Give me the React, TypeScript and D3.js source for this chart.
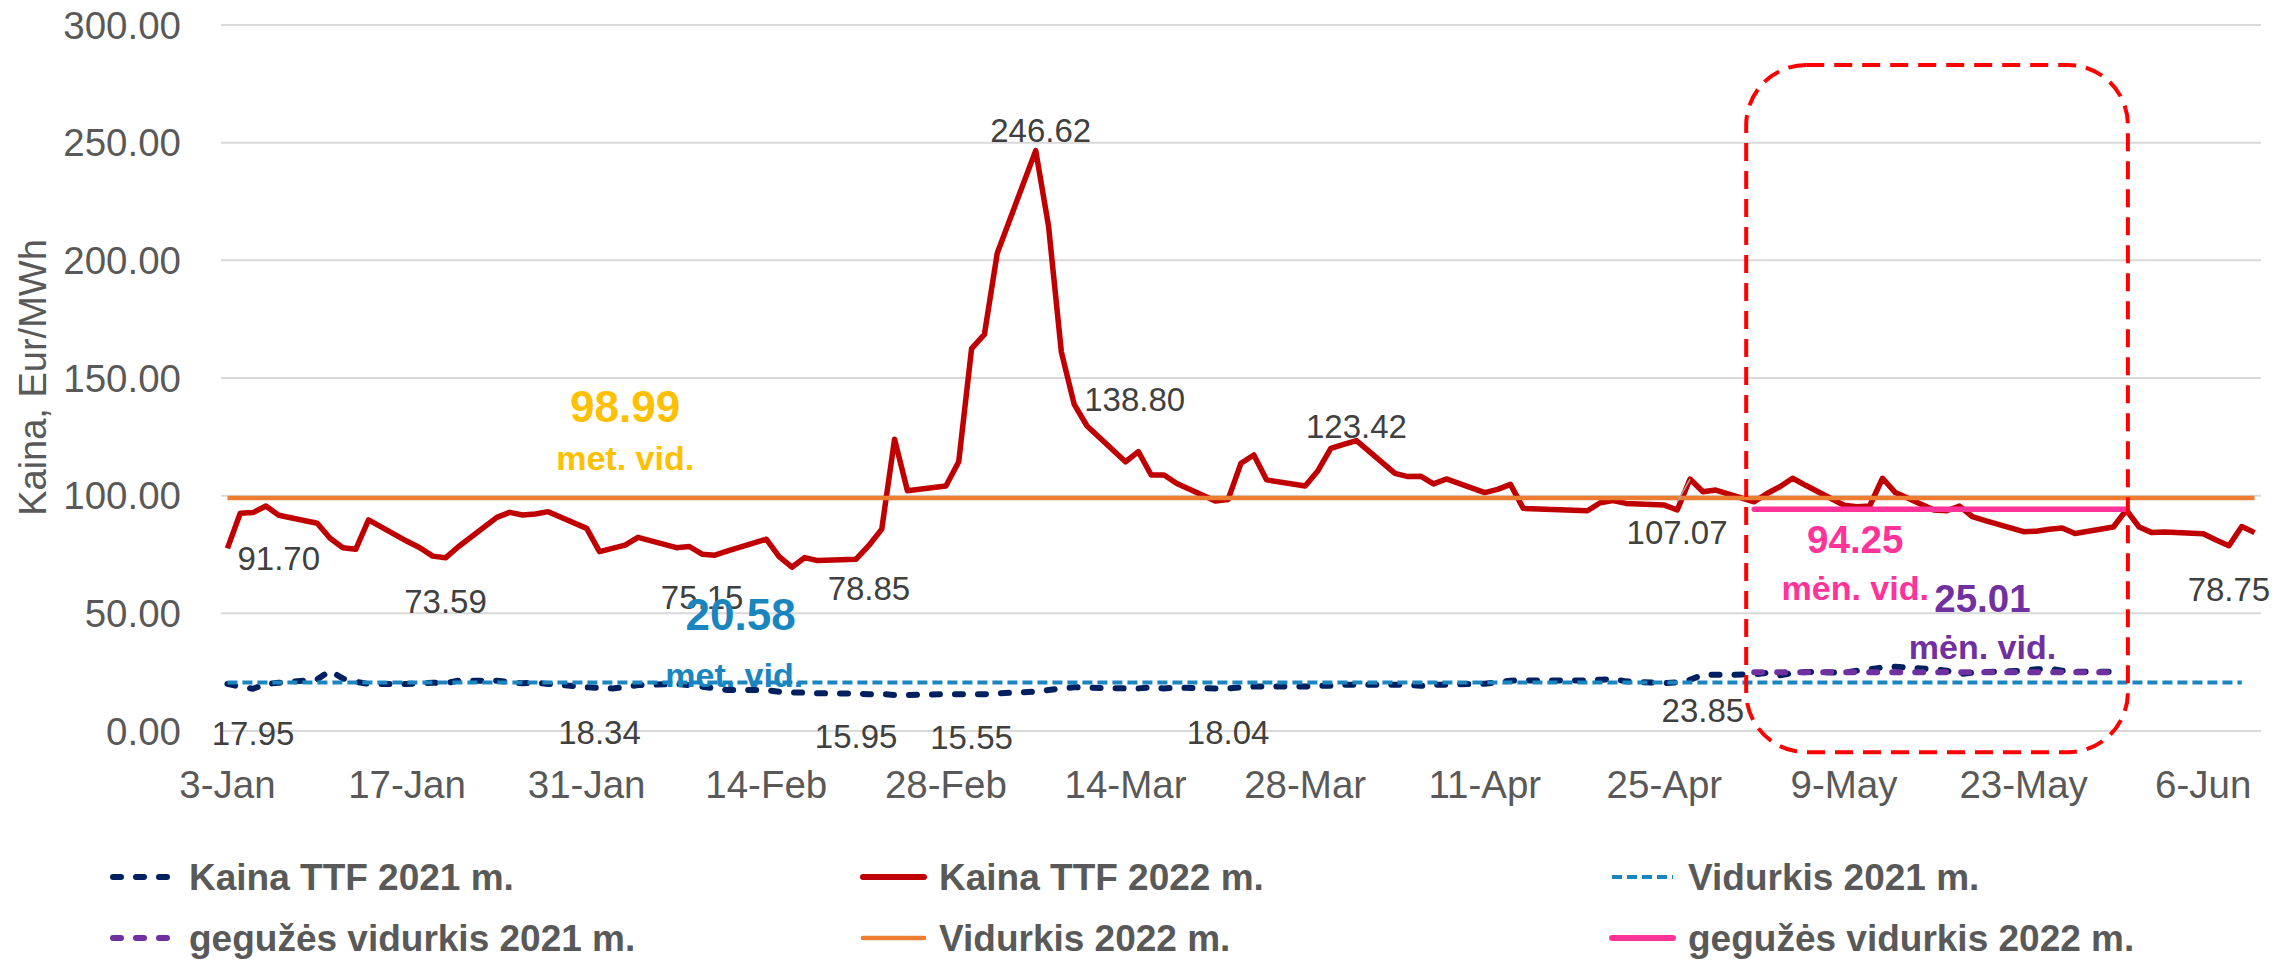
import React from 'react';
import * as d3 from 'd3';

// ---------- data ----------
const START = '2022-01-03';
const END = '2022-06-10';
const HOLIDAYS = ['2022-04-15', '2022-04-18'];

// Kaina TTF 2022 m. (business days from 3-Jan to 10-Jun)
const TTF_2022 = [
  77.6, 92.5, 92.8, 95.6, 91.70,
  88.3, 81.9, 77.9, 77.2, 89.7,
  80.6, 77.9, 74.3, 73.59, 78.3,
  90.8, 92.9, 91.8, 92.2, 93.2,
  86.1, 76.2, 77.6, 79.0, 82.3,
  77.9, 78.4, 75.15, 74.7, 76.5,
  81.5, 74.1, 69.6, 73.7, 72.4,
  73.0, 78.85, 85.8, 124.0, 102.1,
  104.1, 114.4, 162.5, 168.5, 203.0,
  246.62, 214.5, 161.0, 138.80, 129.6,
  114.4, 118.7, 108.8, 108.8, 105.2,
  97.7, 98.4, 113.8, 117.3, 106.7,
  104.1, 110.6, 120.1, 121.8, 123.42,
  109.5, 108.1, 108.3, 105.0, 107.1,
  101.3, 102.7, 104.8, 94.6,
  93.6, 97.0, 97.9, 96.7,
  96.0, 93.9, 107.07, 101.7, 102.4,
  97.4, 100.9, 103.8, 107.4, 104.4,
  95.9, 95.3, 95.6, 107.4, 101.3,
  93.9, 93.6, 95.6, 91.1, 89.4,
  84.7, 84.9, 85.7, 86.3, 83.9,
  86.7, 93.9, 86.7, 84.3, 84.6,
  83.8, 81.2, 78.75, 86.9, 84.3,
];

// Kaina TTF 2021 m. (same day slots, until 30-May)
const TTF_2021 = [
  20.0, 18.8, 17.95, 20.0, 20.5,
  21.9, 25.6, 22.3, 20.9, 20.0,
  20.0, 20.3, 20.5, 20.3, 21.4,
  21.4, 20.7, 20.3, 20.5, 20.0,
  18.6, 18.34, 18.1, 18.6, 19.5,
  20.0, 19.5, 18.8, 18.1, 17.4,
  17.4, 16.7, 16.4, 16.3, 16.0,
  15.95, 15.6, 15.7, 15.3, 15.3,
  15.7, 15.6, 15.55, 15.6, 16.0,
  16.7, 17.4, 18.1, 18.6, 18.4,
  18.1, 18.1, 18.6, 18.1, 18.4,
  18.1, 18.04, 18.6, 18.9, 18.9,
  18.9, 19.2, 19.2, 19.7, 19.7,
  19.7, 19.7, 19.2, 19.7, 19.7,
  20.1, 20.7, 21.4, 21.5,
  21.5, 21.8, 22.1, 21.1,
  20.3, 20.7, 21.8, 23.85, 23.9,
  24.0, 24.7, 23.7, 24.6, 25.1,
  24.8, 25.6, 26.2, 27.0, 27.3,
  26.2, 25.6, 24.2, 24.8, 25.1,
  25.6, 26.2, 26.5, 25.6, 25.2,
  25.2,
];

const AVG_2021 = 20.58;
const AVG_2022 = 98.99;
const MAY_AVG_2021 = 25.01;
const MAY_AVG_2022 = 94.25;
const AVG_2021_END = '2022-06-09';
const MAY_START = '2022-05-02';
const MAY_END_2022 = '2022-05-31';
const MAY_END_2021 = '2022-05-30';

const Y_TICKS = [0, 50, 100, 150, 200, 250, 300];
const X_TICK_COUNT = 12; // every 14 days from 3-Jan

const LABELS_2022 = ['2022-01-07', '2022-01-20', '2022-02-09', '2022-02-22', '2022-03-07', '2022-03-10', '2022-04-01', '2022-04-27', '2022-06-08'];
const LABELS_2021 = ['2022-01-05', '2022-02-01', '2022-02-21', '2022-03-02', '2022-03-22', '2022-04-28'];

const LEGEND = [
  'Kaina TTF 2021 m.', 'Kaina TTF 2022 m.', 'Vidurkis 2021 m.',
  'gegužės vidurkis 2021 m.', 'Vidurkis 2022 m.', 'gegužės vidurkis 2022 m.',
];

// ---------- layout / styles ----------
const W = 2295, H = 962;
const FONT = "'Liberation Sans', Arial, sans-serif";
const C = {
  red: '#C00000', navy: '#002060', lblue: '#1A85BF', purple: '#7030A0',
  orange: '#ED7D31', pink: '#FF3399', gold: '#FFC000', grid: '#D9D9D9',
  axis: '#595959', label: '#404040', box: '#FF0000',
};

const parse = d3.utcParse('%Y-%m-%d');
const dayAt = (days: number) => d3.utcHour.offset(parse(START)!, Math.round(days * 24 * 60) / 60);

function businessDays(start: string, end: string, holidays: string[]) {
  const fmt = d3.utcFormat('%Y-%m-%d');
  return d3.utcDay.range(parse(start)!, d3.utcDay.offset(parse(end)!, 1))
    .filter(d => d.getUTCDay() !== 0 && d.getUTCDay() !== 6 && !holidays.includes(fmt(d)));
}
const DATES = businessDays(START, END, HOLIDAYS);

const x = d3.scaleUtc()
  .domain([d3.utcHour.offset(parse(START)!, -12), d3.utcHour.offset(parse(END)!, 12)])
  .range([221, 2261]);
const y = d3.scaleLinear().domain([0, 300]).range([731, 25]);

type Pt = { d: Date; v: number };
const s2022: Pt[] = TTF_2022.map((v, i) => ({ d: DATES[i], v }));
const s2021: Pt[] = TTF_2021.map((v, i) => ({ d: DATES[i], v }));
const line = d3.line<Pt>().x(p => x(p.d)).y(p => y(p.v));
const flat = (v: number, a: string, b: string) => line([{ d: parse(a)!, v }, { d: parse(b)!, v }])!;

const fmtKey = d3.utcFormat('%Y-%m-%d');
const findPt = (s: Pt[], key: string) => s.find(p => fmtKey(p.d) === key)!;

// label placement (offsets from the point, in px)
const LABEL_LAYOUT_2022 = [
  { dx: 0, dy: 55, anchor: 'middle' },
  { dx: 0, dy: 55, anchor: 'middle' },
  { dx: 0, dy: 55, anchor: 'middle' },
  { dx: 0, dy: 55, anchor: 'middle' },
  { dx: 5, dy: -9, anchor: 'middle' },
  { dx: 10, dy: 7, anchor: 'start' },
  { dx: 0, dy: -3, anchor: 'middle' },
  { dx: -13, dy: 65, anchor: 'middle', leader: true },
  { dx: 0, dy: 55, anchor: 'middle' },
];
const LABEL_LAYOUT_2021 = [
  { dy: 56 }, { dy: 56 }, { dy: 55 }, { dy: 55 }, { dy: 55 }, { dy: 47 },
];

// average note texts (placed in data space)
const NOTES = [
  { text: '98.99', day: 31.0, v: 131.3, size: 44, color: C.gold },
  { text: 'met. vid.', day: 31.0, v: 110.9, size: 34, color: C.gold },
  { text: '20.58', day: 40.0, v: 42.9, size: 44, color: C.lblue },
  { text: 'met. vid.', day: 39.5, v: 18.7, size: 34, color: C.lblue },
  { text: '94.25', day: 126.9, v: 75.6, size: 38.5, color: C.pink },
  { text: 'mėn. vid.', day: 126.9, v: 55.7, size: 34, color: C.pink },
  { text: '25.01', day: 136.8, v: 50.6, size: 38.5, color: C.purple },
  { text: 'mėn. vid.', day: 136.8, v: 30.6, size: 34, color: C.purple },
];

const BOX = { d0: 118.4, d1: 148.15, v0: -9, v1: 283, r: 60 };

const LEG_COLS = [110, 860, 1609];
const LEG_ROWS = [877, 938];

function LegendMarker({ i, x0, yy }: { i: number; x0: number; yy: number }) {
  const x1 = x0 + 67;
  const styles = [
    { stroke: C.navy, w: 6, dash: '8 15', cap: 'round' },
    { stroke: C.red, w: 6, dash: undefined, cap: 'round' },
    { stroke: C.lblue, w: 4, dash: '10 5', cap: 'butt' },
    { stroke: C.purple, w: 6, dash: '8 15', cap: 'round' },
    { stroke: C.orange, w: 4.5, dash: undefined, cap: 'round' },
    { stroke: C.pink, w: 6, dash: undefined, cap: 'round' },
  ][i];
  return <line x1={x0 + 3} x2={x1 - 3} y1={yy} y2={yy} stroke={styles.stroke} strokeWidth={styles.w}
    strokeDasharray={styles.dash} strokeLinecap={styles.cap as any} />;
}

export default function App() {
  const tickDates = d3.range(X_TICK_COUNT).map(i => d3.utcDay.offset(parse(START)!, i * 14));
  const tickFmt = d3.utcFormat('%-d-%b');
  const bx0 = x(dayAt(BOX.d0)), bx1 = x(dayAt(BOX.d1));
  const by0 = y(BOX.v1), by1 = y(BOX.v0);

  return (
    <svg width={W} height={H} style={{ position: 'absolute', left: 0, top: 0, background: '#fff' }}
      fontFamily={FONT}>
      <rect width={W} height={H} fill="#fff" />
      {/* gridlines */}
      {Y_TICKS.map(t => (
        <line key={t} x1={221} x2={2261} y1={y(t)} y2={y(t)} stroke={C.grid} strokeWidth={2} />
      ))}
      {/* y tick labels */}
      {Y_TICKS.map(t => (
        <text key={'yl' + t} x={181} y={y(t) + 13.8} textAnchor="end" fontSize={38.5} fill={C.axis}>
          {t.toFixed(2)}
        </text>
      ))}
      {/* x tick labels */}
      {tickDates.map(d => (
        <text key={+d} x={x(d)} y={798} textAnchor="middle" fontSize={38.5} fill={C.axis}>{tickFmt(d)}</text>
      ))}
      {/* y title */}
      <text transform="translate(46,377.5) rotate(-90)" textAnchor="middle" fontSize={38} fill={C.axis}>
        Kaina, Eur/MWh
      </text>

      {/* series */}
      <path d={line(s2021)!} fill="none" stroke={C.navy} strokeWidth={6} strokeDasharray="8 15"
        strokeLinecap="round" strokeLinejoin="round" />
      <path d={line(s2022)!} fill="none" stroke={C.red} strokeWidth={5.5} strokeLinejoin="round" />
      <path d={flat(AVG_2021, START, AVG_2021_END)} fill="none" stroke={C.lblue} strokeWidth={4}
        strokeDasharray="10 5" />
      <path d={flat(MAY_AVG_2021, MAY_START, MAY_END_2021)} fill="none" stroke={C.purple} strokeWidth={6}
        strokeDasharray="8 15" strokeLinecap="round" />
      <path d={flat(AVG_2022, START, END)} fill="none" stroke={C.orange} strokeWidth={4.5} />
      <path d={flat(MAY_AVG_2022, MAY_START, MAY_END_2022)} fill="none" stroke={C.pink} strokeWidth={5.5}
        strokeLinecap="round" />

      {/* data labels 2022 */}
      {LABELS_2022.map((k, i) => {
        const p = findPt(s2022, k);
        const L = LABEL_LAYOUT_2022[i];
        const px = x(p.d), py = y(p.v);
        return (
          <g key={k}>
            {L.leader && (
              <line x1={px + L.dx} y1={py + 23} x2={px} y2={py} stroke="#A6A6A6" strokeWidth={1.5} />
            )}
            <text x={px + L.dx} y={py + L.dy} textAnchor={L.anchor as any} fontSize={33} fill={C.label}>
              {p.v.toFixed(2)}
            </text>
          </g>
        );
      })}
      {/* data labels 2021 */}
      {LABELS_2021.map((k, i) => {
        const p = findPt(s2021, k);
        return (
          <text key={k} x={x(p.d)} y={y(p.v) + LABEL_LAYOUT_2021[i].dy} textAnchor="middle" fontSize={33}
            fill={C.label}>{p.v.toFixed(2)}</text>
        );
      })}

      {/* average notes */}
      {NOTES.map((n, i) => (
        <text key={i} x={x(dayAt(n.day))} y={y(n.v)} textAnchor="middle" fontSize={n.size}
          fontWeight="bold" fill={n.color}>{n.text}</text>
      ))}

      {/* highlight box */}
      <rect x={bx0} y={by0} width={bx1 - bx0} height={by1 - by0} rx={BOX.r} ry={BOX.r} fill="none"
        stroke={C.box} strokeWidth={4} strokeDasharray="18 10" />

      {/* legend */}
      {LEGEND.map((name, i) => {
        const col = i % 3, row = Math.floor(i / 3);
        const x0 = LEG_COLS[col], yy = LEG_ROWS[row];
        return (
          <g key={name}>
            <LegendMarker i={i} x0={x0} yy={yy} />
            <text x={x0 + 79} y={yy + 12.5} fontSize={37} fontWeight="bold" fill={C.axis}>{name}</text>
          </g>
        );
      })}
    </svg>
  );
}
